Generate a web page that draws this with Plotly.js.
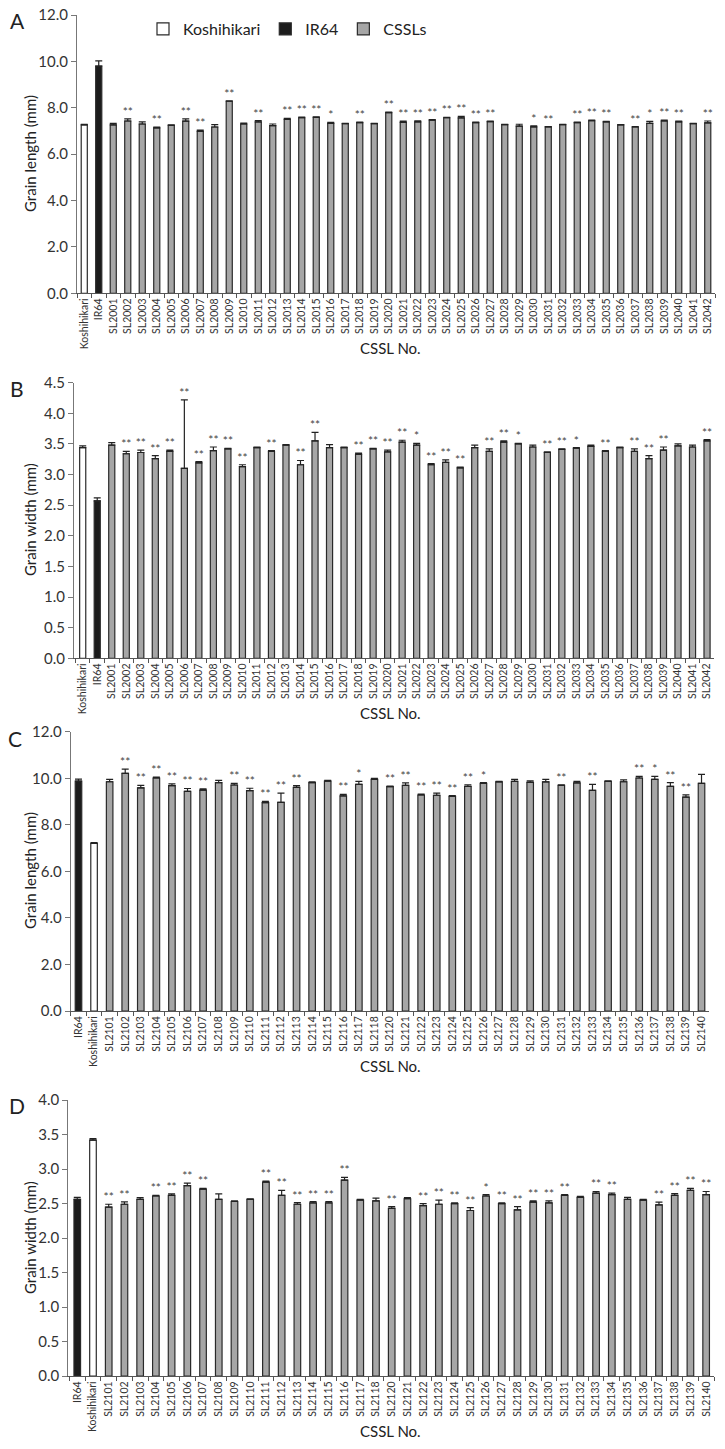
<!DOCTYPE html>
<html>
<head>
<meta charset="utf-8">
<script src="https://cdn.plot.ly/plotly-3.0.1.min.js"></script>
<style>html,body{margin:0;padding:0;background:#fff;}#chart{width:725px;height:1449px;}</style>
</head>
<body>
<div id="chart"></div>
<script>
// ---------- Panel A: grain length (SL2001–SL2042) ----------
const catsA = ['Koshihikari','IR64','SL2001','SL2002','SL2003','SL2004','SL2005','SL2006','SL2007','SL2008','SL2009','SL2010','SL2011','SL2012','SL2013','SL2014','SL2015','SL2016','SL2017','SL2018','SL2019','SL2020','SL2021','SL2022','SL2023','SL2024','SL2025','SL2026','SL2027','SL2028','SL2029','SL2030','SL2031','SL2032','SL2033','SL2034','SL2035','SL2036','SL2037','SL2038','SL2039','SL2040','SL2041','SL2042'];
const valsA = [7.26,9.80,7.26,7.43,7.30,7.13,7.24,7.42,6.98,7.17,8.28,7.30,7.39,7.23,7.50,7.57,7.59,7.33,7.32,7.36,7.32,7.79,7.37,7.39,7.47,7.57,7.56,7.36,7.40,7.27,7.21,7.18,7.18,7.27,7.36,7.44,7.39,7.26,7.17,7.33,7.43,7.39,7.32,7.35];
const errA  = [0.02,0.22,0.07,0.09,0.09,0.04,0.02,0.10,0.06,0.10,0.02,0.04,0.06,0.07,0.04,0.03,0.02,0.04,0.01,0.02,0.01,0.02,0.05,0.05,0.02,0.02,0.07,0.02,0.03,0.02,0.08,0.04,0.01,0.01,0.02,0.03,0.02,0.01,0.02,0.08,0.04,0.04,0.01,0.08];
const sigA  = ['','','','**','','**','','**','**','','**','','**','','**','**','**','*','','**','','**','**','**','**','**','**','**','**','','','*','**','','**','**','**','','**','*','**','**','','**'];

// ---------- Panel B: grain width (SL2001–SL2042) ----------
const catsB = catsA;
const valsB = [3.44,2.57,3.48,3.34,3.36,3.26,3.38,3.10,3.19,3.39,3.42,3.13,3.44,3.38,3.48,3.16,3.55,3.44,3.44,3.33,3.42,3.37,3.53,3.48,3.16,3.20,3.11,3.44,3.38,3.53,3.50,3.45,3.36,3.41,3.43,3.46,3.38,3.44,3.38,3.26,3.40,3.47,3.45,3.55];
const errB  = [0.03,0.05,0.04,0.04,0.04,0.05,0.02,1.12,0.02,0.06,0.01,0.03,0.01,0.01,0.01,0.07,0.14,0.05,0.01,0.02,0.01,0.03,0.03,0.03,0.02,0.04,0.01,0.04,0.04,0.02,0.01,0.03,0.01,0.01,0.01,0.02,0.01,0.01,0.04,0.05,0.05,0.03,0.03,0.02];
const sigB  = ['','','','**','**','**','**','**','**','**','**','**','','**','','**','**','','','**','**','**','**','*','**','**','**','','**','**','*','','**','**','*','','**','','**','**','**','','','**'];

// ---------- Panel C: grain length (SL2101–SL2140) ----------
const catsC = ['IR64','Koshihikari','SL2101','SL2102','SL2103','SL2104','SL2105','SL2106','SL2107','SL2108','SL2109','SL2110','SL2111','SL2112','SL2113','SL2114','SL2115','SL2116','SL2117','SL2118','SL2120','SL2121','SL2122','SL2123','SL2124','SL2125','SL2126','SL2127','SL2128','SL2129','SL2130','SL2131','SL2132','SL2133','SL2134','SL2135','SL2136','SL2137','SL2138','SL2139','SL2140'];
const valsC = [9.88,7.20,9.85,10.21,9.59,10.01,9.68,9.44,9.49,9.81,9.71,9.47,8.95,8.96,9.61,9.81,9.88,9.24,9.74,9.95,9.64,9.69,9.28,9.27,9.22,9.65,9.78,9.84,9.87,9.82,9.84,9.69,9.80,9.48,9.87,9.85,10.01,9.95,9.65,9.19,9.78];
const errC  = [0.08,0.03,0.10,0.18,0.10,0.04,0.08,0.12,0.05,0.10,0.07,0.10,0.06,0.40,0.07,0.03,0.03,0.07,0.13,0.05,0.02,0.11,0.04,0.09,0.03,0.07,0.03,0.03,0.08,0.07,0.11,0.03,0.07,0.26,0.02,0.08,0.07,0.13,0.16,0.10,0.39];
const sigC  = ['','','','**','**','**','**','**','**','','**','**','**','**','**','','','**','*','','**','**','**','**','**','**','*','','','','','**','','**','','','**','*','**','**',''];

// ---------- Panel D: grain width (SL2101–SL2140) ----------
const catsD = catsC;
const valsD = [2.56,3.42,2.45,2.49,2.56,2.61,2.62,2.76,2.71,2.56,2.53,2.56,2.81,2.62,2.49,2.51,2.51,2.84,2.55,2.54,2.43,2.57,2.47,2.49,2.50,2.40,2.61,2.50,2.41,2.52,2.51,2.62,2.59,2.65,2.63,2.56,2.55,2.48,2.62,2.69,2.63];
const errD  = [0.03,0.02,0.04,0.035,0.025,0.01,0.02,0.035,0.01,0.08,0.01,0.01,0.015,0.07,0.025,0.02,0.02,0.04,0.01,0.04,0.025,0.015,0.03,0.06,0.01,0.04,0.02,0.01,0.045,0.02,0.03,0.01,0.015,0.025,0.02,0.03,0.01,0.04,0.025,0.03,0.045];
const sigD  = ['','','**','**','','**','**','**','**','','','','**','**','**','**','**','**','','','**','','**','**','**','**','*','**','**','**','**','**','','**','**','','','**','**','**','**'];

const FONT = 'Lato, "Open Sans", "Noto Sans", sans-serif';
const W = 725, H = 1449;
const px = v => v / W;
const py = v => 1 - v / H;

const groups = [
  {name:'Koshihikari', test:c => c === 'Koshihikari', fill:'#ffffff'},
  {name:'IR64',        test:c => c === 'IR64',        fill:'#1c1c1c'},
  {name:'CSSLs',       test:c => c.startsWith('SL'),  fill:'#a6a6a6'}
];

const traces = [];
function panel(cats, vals, errs, sig, xa, ya, showLegend) {
  groups.forEach(g => {
    const idx = cats.map((c, i) => i).filter(i => g.test(cats[i]));
    traces.push({
      type:'bar', name:g.name, legendgroup:g.name, showlegend:showLegend,
      x: idx.map(i => cats[i]), y: idx.map(i => vals[i]), width:0.42,
      marker:{color:g.fill, line:{color:'#2a2a2a', width:1.2}},
      error_y:{type:'data', symmetric:false, array: idx.map(i => errs[i]), arrayminus: idx.map(() => 0),
               color:'#222', thickness:1.2, width:3.5},
      xaxis:xa, yaxis:ya, hoverinfo:'skip'
    });
  });
  traces.push({
    type:'scatter', mode:'text', x:cats, y:vals.map((v, i) => v + errs[i]), text:sig,
    textposition:'top center', textfont:{size:12, color:'#444', family:FONT},
    showlegend:false, cliponaxis:false, xaxis:xa, yaxis:ya, hoverinfo:'skip'
  });
}
panel(catsA, valsA, errA, sigA, 'x',  'y',  true);
panel(catsB, valsB, errB, sigB, 'x2', 'y2', false);
panel(catsC, valsC, errC, sigC, 'x3', 'y3', false);
panel(catsD, valsD, errD, sigD, 'x4', 'y4', false);

function xax(cats, dom, range, anchor) {
  return {domain:dom, anchor:anchor, type:'category', categoryorder:'array', categoryarray:cats,
    range:range, showline:true, linecolor:'#555', linewidth:1, ticks:'outside', ticklen:4,
    tickcolor:'#555', tickson:'boundaries', tickangle:-90, tickfont:{size:10.5, color:'#333', family:FONT},
    showgrid:false, zeroline:false, fixedrange:true};
}
function yax(dom, range, dtick, anchor) {
  return {domain:dom, anchor:anchor, range:range, dtick:dtick, tick0:0, tickformat:'.1f',
    showline:true, linecolor:'#777', linewidth:1, ticks:'outside', ticklen:5, tickcolor:'#777',
    tickfont:{size:15, color:'#333', family:FONT}, showgrid:false, zeroline:false, fixedrange:true};
}

const ann = [];
function label(text, x, y, size, angle) {
  ann.push({text:text, xref:'paper', yref:'paper', x:px(x), y:py(y), xanchor:'center', yanchor:'middle',
    showarrow:false, textangle:angle || 0, font:{size:size, color:'#222', family:FONT}});
}
label('A', 17, 20, 21); label('B', 17, 388, 21); label('C', 15, 738, 21); label('D', 17, 1105, 21);
label('Grain length (mm)', 30, 154, 15, -90);
label('Grain width (mm)', 30, 520, 15, -90);
label('Grain length (mm)', 30, 871, 15, -90);
label('Grain width (mm)', 30, 1238, 15, -90);
label('CSSL No.', 390, 348, 15);
label('CSSL No.', 390, 713, 15);
label('CSSL No.', 390, 1066, 15);
label('CSSL No.', 390, 1431, 15);

const layout = {
  width:W, height:H, margin:{l:0, r:0, t:0, b:0}, paper_bgcolor:'#fff', plot_bgcolor:'#fff',
  barmode:'overlay', hovermode:false, font:{family:FONT, color:'#222'},
  showlegend:true,
  legend:{orientation:'h', x:px(143), y:py(29), xanchor:'left', yanchor:'middle',
          font:{size:16, color:'#222', family:FONT}, bgcolor:'rgba(0,0,0,0)', traceorder:'normal'},
  xaxis:  xax(catsA, [px(77),   px(715)],   [-0.5, 43.5], 'y'),
  yaxis:  yax([py(293.3), py(15)],    [0, 12],  2,   'x'),
  xaxis2: xax(catsB, [px(74),   px(714.3)], [-0.6, 43.5], 'y2'),
  yaxis2: yax([py(658.3), py(382.7)], [0, 4.5], 0.5, 'x2'),
  xaxis3: xax(catsC, [px(70.7), px(709.3)], [-0.5, 40.5], 'y3'),
  yaxis3: yax([py(1011), py(731.7)],  [0, 12],  2,   'x3'),
  xaxis4: xax(catsD, [px(68.3), px(714)],   [-0.57, 40.5], 'y4'),
  yaxis4: yax([py(1376.2), py(1100)], [0, 4],   0.5, 'x4'),
  annotations: ann
};

Plotly.newPlot('chart', traces, layout, {staticPlot:true, displayModeBar:false});
</script>
</body>
</html>
